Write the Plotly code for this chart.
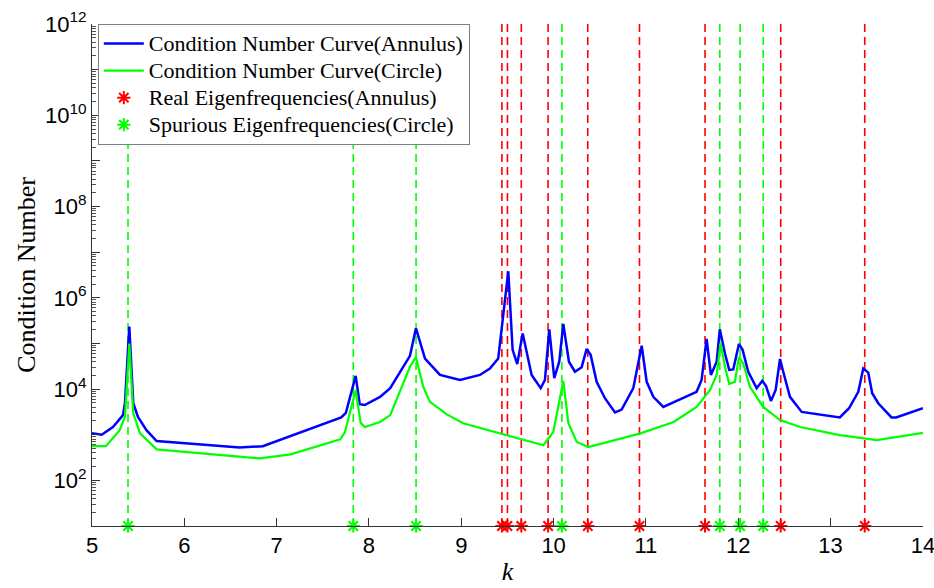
import plotly.graph_objects as go

# ---------------- data ----------------
k_annulus = [5.00, 5.105, 5.227, 5.336, 5.357, 5.404, 5.447, 5.498, 5.59, 5.70,
             6.60, 6.85, 7.70, 7.75, 7.856, 7.90, 7.955, 8.12, 8.23, 8.444,
             8.509, 8.607, 8.769, 8.986, 9.202, 9.31, 9.40, 9.509, 9.556, 9.606,
             9.665, 9.762, 9.86, 9.906, 9.953, 10.007, 10.061, 10.105, 10.166, 10.231,
             10.304, 10.358, 10.401, 10.466, 10.556, 10.665, 10.737, 10.863, 10.954, 11.008,
             11.08, 11.188, 11.549, 11.603, 11.657, 11.704, 11.766, 11.80, 11.856, 11.902,
             11.946, 12.007, 12.047, 12.108, 12.199, 12.26, 12.30, 12.354, 12.405, 12.452,
             12.487, 12.56, 12.687, 13.10, 13.20, 13.30, 13.354, 13.408, 13.451, 13.516,
             13.66, 13.71, 14.0]
log10_cond_annulus = [3.03, 3.00, 3.17, 3.43, 3.69, 5.37, 3.69, 3.39, 3.10, 2.86,
                      2.72, 2.75, 3.38, 3.48, 4.29, 3.67, 3.65, 3.83, 4.02, 4.73,
                      5.33, 4.67, 4.31, 4.20, 4.31, 4.45, 4.67, 6.58, 4.86, 4.55,
                      5.22, 4.31, 4.02, 4.20, 5.31, 4.24, 4.60, 5.43, 4.60, 4.38,
                      4.48, 4.88, 4.75, 4.16, 3.80, 3.49, 3.55, 4.02, 4.95, 4.16,
                      3.83, 3.61, 3.94, 4.20, 5.10, 4.31, 4.60, 5.31, 4.78, 4.42,
                      4.43, 4.99, 4.86, 4.38, 4.02, 4.18, 4.07, 3.74, 3.98, 4.66,
                      4.38, 3.83, 3.50, 3.38, 3.58, 3.94, 4.45, 4.36, 3.91, 3.69,
                      3.38, 3.38, 3.58]

k_circle = [5.00, 5.15, 5.30, 5.357, 5.404, 5.447, 5.52, 5.70, 6.82, 7.15,
            7.69, 7.74, 7.856, 7.91, 7.955, 8.12, 8.23, 8.444, 8.509, 8.588,
            8.66, 8.84, 9.02, 9.89, 9.996, 10.105, 10.16, 10.25, 10.376, 10.94,
            11.30, 11.549, 11.695, 11.766, 11.808, 11.856, 11.902, 11.964, 12.007, 12.054,
            12.126, 12.27, 12.452, 12.67, 13.10, 13.50, 14.0]
log10_cond_circle = [2.75, 2.75, 3.10, 3.39, 5.00, 3.47, 3.03, 2.68, 2.48, 2.57,
                     2.90, 3.06, 3.98, 3.26, 3.17, 3.28, 3.43, 4.49, 4.70, 4.05,
                     3.72, 3.45, 3.25, 2.77, 3.06, 4.18, 3.25, 2.84, 2.73, 3.03,
                     3.28, 3.61, 3.98, 4.31, 5.00, 4.49, 4.11, 4.16, 4.70, 4.56,
                     4.05, 3.61, 3.32, 3.17, 2.99, 2.88, 3.04]

real_eig_annulus = [9.44, 9.50, 9.65, 9.94, 10.37, 10.93, 11.64, 12.46, 13.37]
spurious_eig_circle = [5.39, 7.83, 8.51, 10.09, 11.80, 12.02, 12.27]

x_ticks = [5, 6, 7, 8, 9, 10, 11, 12, 13, 14]
y_decades = list(range(1, 13))          # major ticks at every decade
y_labelled = [2, 4, 6, 8, 10, 12]       # decades that carry a label
y_bottom = 10
y_top = 1e12

cond_annulus = [10 ** v for v in log10_cond_annulus]
cond_circle = [10 ** v for v in log10_cond_circle]

RED = "#ff0000"
GREEN = "#00ff00"
BLUE = "#0000ff"


def vlines(ks):
    xs, ys = [], []
    for k in ks:
        xs += [k, k, None]
        ys += [y_bottom, y_top, None]
    return xs, ys


def legend_name(s):
    return "<span style='font-size:22px'>" + s + "</span>"


fig = go.Figure()

xr, yr = vlines(real_eig_annulus)
fig.add_trace(go.Scatter(x=xr, y=yr, mode="lines", showlegend=False,
                         line=dict(color=RED, width=1.6, dash="8px,5px"), hoverinfo="skip"))
xg, yg = vlines(spurious_eig_circle)
fig.add_trace(go.Scatter(x=xg, y=yg, mode="lines", showlegend=False,
                         line=dict(color=GREEN, width=1.6, dash="8px,5px"), hoverinfo="skip"))

fig.add_trace(go.Scatter(x=k_annulus, y=cond_annulus, mode="lines",
                         name=legend_name("Condition Number Curve(Annulus)"), legendrank=1,
                         line=dict(color=BLUE, width=2.5)))
fig.add_trace(go.Scatter(x=k_circle, y=cond_circle, mode="lines",
                         name=legend_name("Condition Number Curve(Circle)"), legendrank=2,
                         line=dict(color=GREEN, width=2.2)))
fig.add_trace(go.Scatter(x=real_eig_annulus, y=[y_bottom] * len(real_eig_annulus), mode="markers",
                         name=legend_name("Real Eigenfrequencies(Annulus)"), legendrank=3, cliponaxis=False,
                         marker=dict(symbol="asterisk-open", size=11, color=RED,
                                     line=dict(color=RED, width=2))))
fig.add_trace(go.Scatter(x=spurious_eig_circle, y=[y_bottom] * len(spurious_eig_circle), mode="markers",
                         name=legend_name("Spurious Eigenfrequencies(Circle)"), legendrank=4, cliponaxis=False,
                         marker=dict(symbol="asterisk-open", size=11, color=GREEN,
                                     line=dict(color=GREEN, width=2))))

AX = "#333333"
fig.update_layout(
    width=934, height=588,
    margin=dict(l=92, r=11, t=24, b=62),
    paper_bgcolor="white", plot_bgcolor="white",
    showlegend=True,
    legend=dict(x=0.007, y=1.0, xanchor="left", yanchor="top",
                bgcolor="white", bordercolor="#808080", borderwidth=1,
                font=dict(family="Liberation Serif", size=18.5, color="black"),
                traceorder="normal", itemwidth=40, tracegroupgap=0),
    xaxis=dict(range=[5, 14.001], tickvals=x_ticks, ticktext=[str(t) for t in x_ticks],
               ticklabeloverflow="allow",
               showgrid=False, zeroline=False, showline=True, linecolor=AX, linewidth=1,
               ticks="inside", ticklen=8, tickwidth=1.2, tickcolor="#333333",
               tickfont=dict(family="Liberation Sans", size=22, color="black"),
               title=dict(text="<i>k</i>", font=dict(family="Liberation Serif", size=26, color="black"),
                          standoff=4),
               automargin=False),
    yaxis=dict(type="log", range=[1, 12],
               tickvals=[10 ** d for d in y_decades],
               ticktext=[("10<sup>%d</sup>" % d) if d in y_labelled else "" for d in y_decades],
               showgrid=False, zeroline=False, showline=True, linecolor=AX, linewidth=1,
               ticks="inside", ticklen=8, tickwidth=1.2, tickcolor="#333333",
               minor=dict(ticks="inside", ticklen=4, tickwidth=1, tickcolor="#555555",
                          dtick="D1", showgrid=False),
               tickfont=dict(family="Liberation Sans", size=22, color="black"),
               title=dict(text="Condition Number", font=dict(family="Liberation Serif", size=26, color="black"),
                          standoff=1),
               automargin=False),
)

fig.write_html("out.html", config={"displayModeBar": False},
               post_script="document.body.style.margin='0';document.body.style.overflow='hidden';")
